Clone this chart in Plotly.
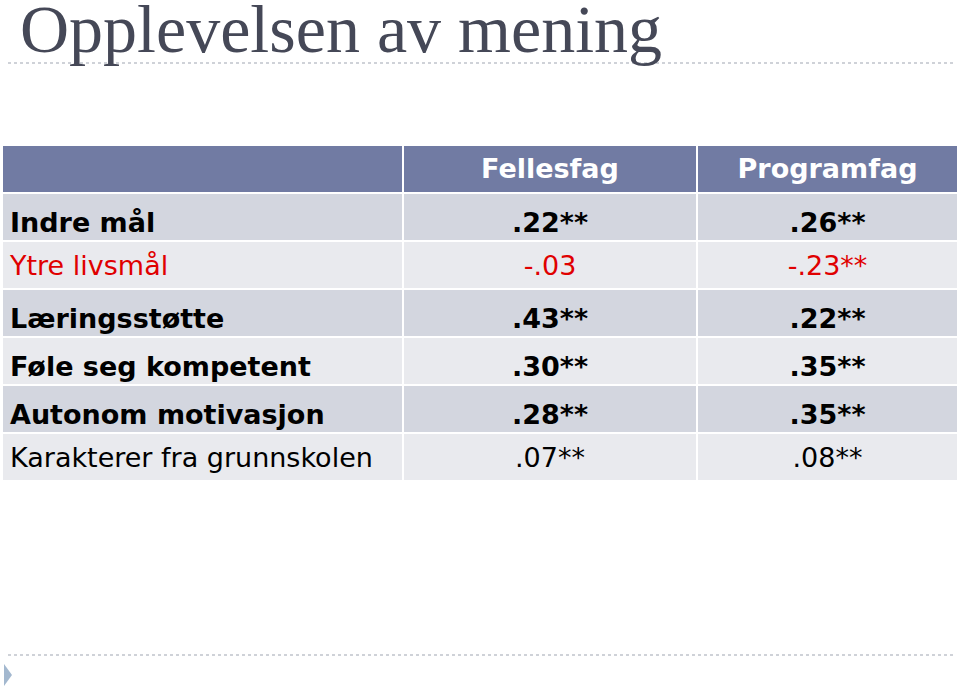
import plotly.graph_objects as go

title = "Opplevelsen av mening"
columns = ["", "Fellesfag", "Programfag"]
measures = ["Indre mål", "Ytre livsmål", "Læringsstøtte", "Føle seg kompetent",
            "Autonom motivasjon", "Karakterer fra grunnskolen"]
fellesfag = [".22**", "-.03", ".43**", ".30**", ".28**", ".07**"]
programfag = [".26**", "-.23**", ".22**", ".35**", ".35**", ".08**"]
bold_rows = [True, False, True, True, True, False]
red_rows = [False, True, False, False, False, False]

W, H = 960, 688
FONT = "DejaVu Sans, sans-serif"
CLEAR = "rgba(0,0,0,0)"
TEXT_SHIFT = 6  # body text sits a little lower in its cell than Plotly's default

def fmt(v, b):
    return f"<b>{v}</b>" if b else v

col_vals = [
    [fmt(m, b) for m, b in zip(measures, bold_rows)],
    [fmt(v, b) for v, b in zip(fellesfag, bold_rows)],
    [fmt(v, b) for v, b in zip(programfag, bold_rows)],
]
colors = ["#e00000" if r else "#000000" for r in red_rows]
fills = ["#d3d6df" if i % 2 == 0 else "#e9eaee" for i in range(len(measures))]
blank = [[""] * len(measures) for _ in columns]
domain = dict(x=[2 / W, 958 / W], y=[1 - 500 / H, 1 - 145 / H])
widths = [401, 294, 261]

# background grid + header text
fig = go.Figure(go.Table(
    domain=domain,
    columnwidth=widths,
    header=dict(
        values=[f"<b>{c}</b>" for c in columns],
        fill_color="#717ba3",
        line=dict(color="white", width=2),
        align=["left", "center", "center"],
        font=dict(family=FONT, size=27, color="white"),
        height=48,
    ),
    cells=dict(
        values=blank,
        fill_color=[fills, fills, fills],
        line=dict(color="white", width=2),
        height=48,
    ),
))

# body text overlay
fig.add_trace(go.Table(
    domain=domain,
    columnwidth=widths,
    header=dict(
        values=["", "", ""],
        fill_color=CLEAR,
        line=dict(color=CLEAR, width=0),
        height=48 + TEXT_SHIFT,
    ),
    cells=dict(
        values=col_vals,
        fill_color=CLEAR,
        line=dict(color=CLEAR, width=0),
        align=["left", "center", "center"],
        font=dict(family=FONT, size=27, color=[colors] * 3),
        height=48,
    ),
))

fig.update_layout(
    width=W, height=H,
    margin=dict(l=0, r=0, t=0, b=0),
    paper_bgcolor="white",
    plot_bgcolor="white",
    annotations=[dict(
        text=title, x=18 / W, y=1 - 29 / H, xref="paper", yref="paper",
        xanchor="left", yanchor="middle", showarrow=False,
        font=dict(family="Liberation Serif, DejaVu Serif, serif", size=68, color="#454857"),
    )],
    shapes=[
        dict(type="line", xref="paper", yref="paper", x0=8 / W, x1=955 / W,
             y0=1 - 63 / H, y1=1 - 63 / H, line=dict(color="#c0c4cc", width=1.5, dash="dot")),
        dict(type="line", xref="paper", yref="paper", x0=8 / W, x1=955 / W,
             y0=1 - 655 / H, y1=1 - 655 / H, line=dict(color="#c0c4cc", width=1.5, dash="dot")),
        dict(type="path", xref="paper", yref="paper",
             path=f"M {4/W},{1-664/H} L {4/W},{1-686/H} L {12/W},{1-675/H} Z",
             fillcolor="#a3b8cf", line=dict(width=0)),
    ],
)

fig.write_html("out.html", config={"displayModeBar": False},
               post_script="document.body.style.margin='0';")
